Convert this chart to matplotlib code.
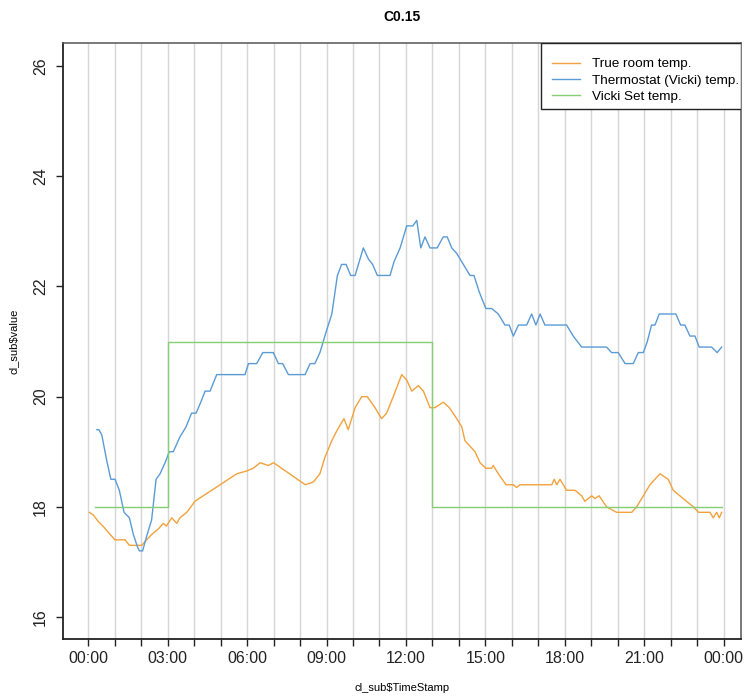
import matplotlib as mpl
mpl.use('Agg')

import matplotlib.pyplot as plt
import matplotlib.patches as mpatches
from matplotlib.lines import Line2D
from matplotlib.legend_handler import HandlerLine2D
import numpy as np

plt.rcParams['font.family'] = ['Liberation Sans', 'DejaVu Sans']

# colours
orange_color = "#F2A23C"
blue_color = "#5B9BD5"
green_color = "#84CF72"
grid_color = "#D6D6D6"

# data (time in hours since midnight)
room_hours = [0.04, 0.19, 0.38, 0.57, 0.82, 1.01, 1.39, 1.55, 2.02, 2.20,
  2.40, 2.65, 2.83, 2.95, 3.15, 3.34, 3.46, 3.72, 4.03, 4.34,
  4.66, 4.98, 5.29, 5.61, 5.98, 6.23, 6.49, 6.80, 7.00, 7.30,
  7.60, 7.90, 8.20, 8.50, 8.75, 8.94, 9.20, 9.41, 9.66, 9.82,
  10.08, 10.33, 10.54, 10.83, 11.08, 11.27, 11.52, 11.84, 12.03, 12.22,
  12.47, 12.66, 12.91, 13.10, 13.41, 13.64, 13.92, 14.11, 14.23, 14.42,
  14.61, 14.80, 15.02, 15.24, 15.30, 15.49, 15.78, 16.06, 16.18, 16.31,
  17.51, 17.60, 17.70, 17.82, 18.07, 18.39, 18.64, 18.76, 19.02, 19.14,
  19.30, 19.58, 19.96, 20.53, 20.72, 20.97, 21.22, 21.41, 21.60, 21.75,
  21.91, 22.10, 22.35, 22.60, 22.86, 23.05, 23.49, 23.61, 23.74, 23.84,
  23.93]
room_temp = [17.9, 17.85, 17.73, 17.64, 17.5, 17.4, 17.4, 17.3, 17.3, 17.4,
  17.5, 17.6, 17.7, 17.65, 17.8, 17.7, 17.8, 17.9, 18.1, 18.2,
  18.3, 18.4, 18.5, 18.6, 18.65, 18.7, 18.8, 18.75, 18.8, 18.7,
  18.6, 18.5, 18.4, 18.45, 18.6, 18.9, 19.2, 19.4, 19.6, 19.4,
  19.8, 20.0, 20.0, 19.8, 19.6, 19.7, 20.0, 20.4, 20.3, 20.1,
  20.2, 20.1, 19.8, 19.8, 19.9, 19.8, 19.6, 19.45, 19.2, 19.1,
  19.0, 18.8, 18.7, 18.7, 18.75, 18.6, 18.4, 18.4, 18.35, 18.4,
  18.4, 18.5, 18.4, 18.5, 18.3, 18.3, 18.2, 18.1, 18.2, 18.15,
  18.2, 18.0, 17.9, 17.9, 18.0, 18.2, 18.4, 18.5, 18.6, 18.55,
  18.5, 18.3, 18.2, 18.1, 18.0, 17.9, 17.9, 17.8, 17.9, 17.8,
  17.9]

vicki_hours = [0.32, 0.40, 0.51, 0.69, 0.85, 1.01, 1.17, 1.35, 1.55, 1.70,
  1.85, 1.93, 2.05, 2.20, 2.39, 2.56, 2.71, 2.90, 3.06, 3.21,
  3.46, 3.69, 3.90, 4.07, 4.25, 4.41, 4.60, 4.85, 4.98, 5.92,
  6.05, 6.36, 6.59, 6.99, 7.18, 7.34, 7.56, 8.19, 8.38, 8.56,
  8.75, 9.00, 9.20, 9.41, 9.57, 9.74, 9.91, 10.08, 10.39, 10.58,
  10.74, 10.92, 11.40, 11.55, 11.78, 12.03, 12.26, 12.41, 12.56, 12.72,
  12.91, 13.18, 13.41, 13.56, 13.73, 13.92, 14.17, 14.42, 14.57, 14.77,
  15.02, 15.24, 15.49, 15.74, 15.90, 16.06, 16.25, 16.56, 16.75, 16.91,
  17.07, 17.25, 18.07, 18.32, 18.64, 19.58, 19.77, 20.02, 20.28, 20.59,
  20.78, 20.97, 21.12, 21.28, 21.41, 21.57, 22.20, 22.38, 22.54, 22.73,
  22.92, 23.08, 23.55, 23.76, 23.93]
vicki_temp = [19.4, 19.4, 19.3, 18.85, 18.5, 18.5, 18.3, 17.9, 17.8, 17.5,
  17.28, 17.2, 17.2, 17.46, 17.76, 18.5, 18.6, 18.8, 19.0, 19.0,
  19.27, 19.45, 19.7, 19.7, 19.9, 20.1, 20.1, 20.4, 20.4, 20.4,
  20.6, 20.6, 20.8, 20.8, 20.6, 20.6, 20.4, 20.4, 20.6, 20.6,
  20.8, 21.2, 21.5, 22.2, 22.4, 22.4, 22.2, 22.2, 22.7, 22.5,
  22.4, 22.2, 22.2, 22.45, 22.7, 23.1, 23.1, 23.2, 22.7, 22.9,
  22.7, 22.7, 22.9, 22.9, 22.7, 22.6, 22.4, 22.2, 22.2, 21.9,
  21.6, 21.6, 21.5, 21.3, 21.3, 21.1, 21.3, 21.3, 21.5, 21.3,
  21.5, 21.3, 21.3, 21.1, 20.9, 20.9, 20.8, 20.8, 20.6, 20.6,
  20.8, 20.8, 21.0, 21.3, 21.3, 21.5, 21.5, 21.3, 21.3, 21.1,
  21.1, 20.9, 20.9, 20.8, 20.9]

set_hours = [0.25, 3.0, 13.0, 23.93]
set_temp = [18, 21, 18, 18]

tick_labels = ["00:00", "03:00", "06:00", "09:00", "12:00",
  "15:00", "18:00", "21:00", "00:00"]

fig = plt.figure(figsize=(7.46, 6.96), dpi=100)
ax = fig.add_axes([0.0845, 0.0819, 0.9088, 0.8563])

# hourly grid lines
for h in range(0, 25):
  ax.axvline(h, color=grid_color, linewidth=1.0, zorder=0)

ax.plot(room_hours, room_temp, color=orange_color, linewidth=1.0, label="True room temp.")
ax.plot(vicki_hours, vicki_temp, color=blue_color, linewidth=1.0, label="Thermostat (Vicki) temp.")
ax.plot(set_hours, set_temp, color=green_color, linewidth=1.0, drawstyle='steps-post',
  label="Vicki Set temp.")

ax.set_xlim(-0.956, 24.66)
ax.set_ylim(15.6, 26.42)

ax.set_xticks(np.arange(0, 25))
ax.set_xticklabels([tick_labels[h // 3] if h % 3 == 0 else "" for h in range(0, 25)])
ax.set_yticks([16, 18, 20, 22, 24, 26])
ax.set_yticklabels(["16", "18", "20", "22", "24", "26"], rotation=90, va='center')

ax.tick_params(axis='both', direction='out', length=5, width=1.0, labelsize=11.5,
  colors='#222222')
ax.tick_params(axis='x', pad=4)
ax.tick_params(axis='y', pad=6)
for side in ['left', 'bottom']:
  ax.spines[side].set_linewidth(1.3)
  ax.spines[side].set_color('#222222')
for side in ['top', 'right']:
  ax.spines[side].set_linewidth(1.1)
  ax.spines[side].set_color('#555555')

fig.text(0.539, 0.976, "C0.15", ha='center', va='center', fontsize=10, fontweight='bold')
fig.text(0.539, 0.012, r"cl_sub\$TimeStamp", ha='center', va='center', fontsize=8)
fig.text(0.018, 0.51, r"cl_sub\$value", ha='center', va='center', fontsize=8, rotation=90)

# legend box (R style: frame flush with the top right corner)
frame = mpatches.Rectangle((0.705, 0.889), 0.295, 0.111, transform=ax.transAxes,
  facecolor='white', edgecolor='#222222', linewidth=1.0, zorder=4)
ax.add_patch(frame)
leg = ax.legend(loc='upper left', bbox_to_anchor=(0.7094, 0.9748), fontsize=9.7,
  frameon=False, borderaxespad=0, borderpad=0, handlelength=3.27,
  handletextpad=0.3, labelspacing=0.27, numpoints=2,
  handler_map={Line2D: HandlerLine2D(marker_pad=0.59)})
leg.set_zorder(5)

plt.savefig("out.png", dpi=100)
plt.close()
